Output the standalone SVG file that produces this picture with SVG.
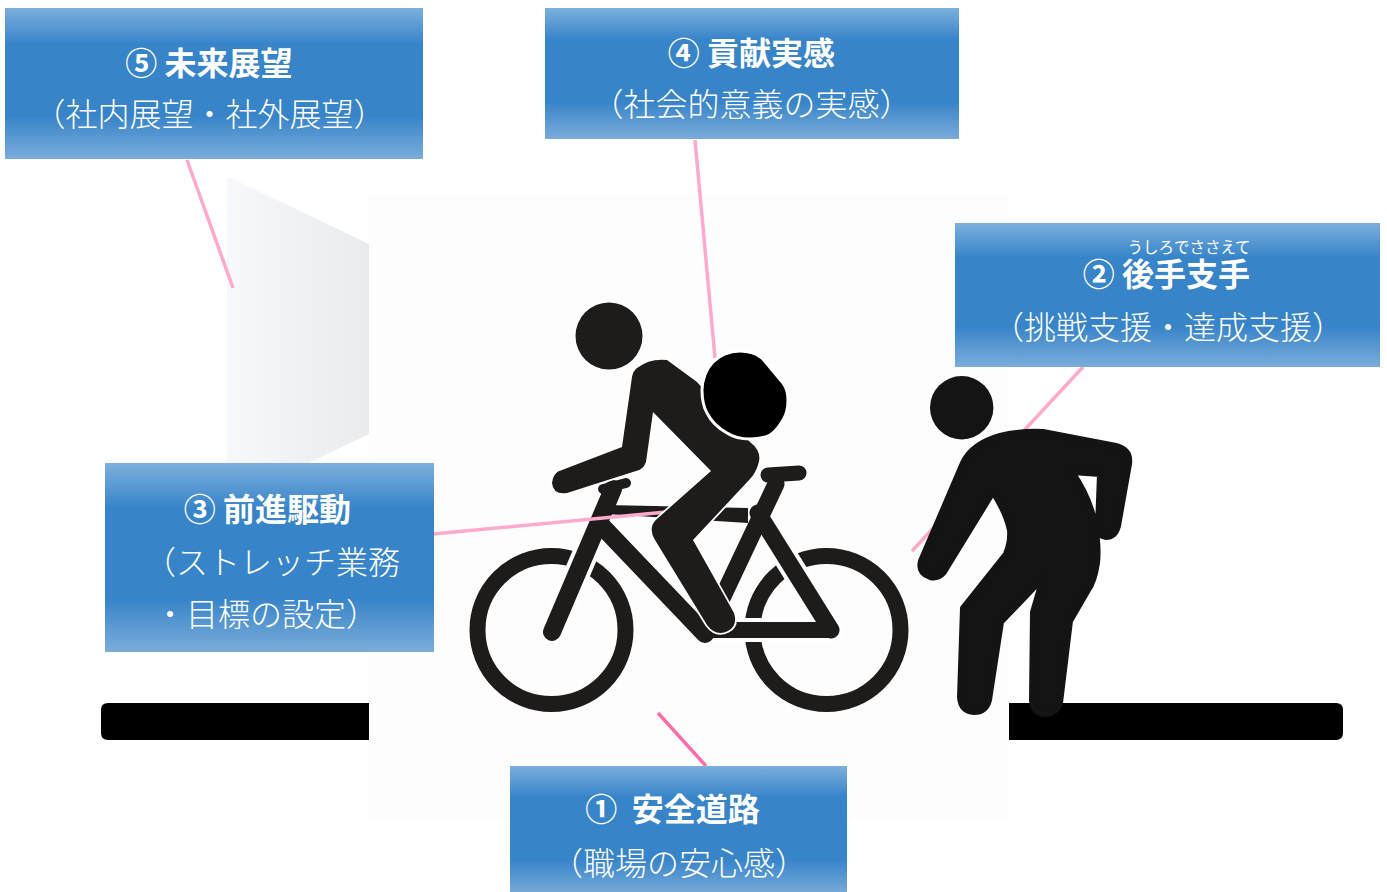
<svg xmlns="http://www.w3.org/2000/svg" width="1387" height="892" viewBox="0 0 1387 892">
  <defs>
    <linearGradient id="boxFill" x1="0" y1="0" x2="0" y2="1">
      <stop offset="0" stop-color="#7cafdd"/>
      <stop offset="0.24" stop-color="#3884c9"/>
      <stop offset="0.72" stop-color="#3884c9"/>
      <stop offset="1" stop-color="#7badda"/>
    </linearGradient>
    <linearGradient id="wedgeFill" x1="0" y1="0" x2="1" y2="0">
      <stop offset="0" stop-color="#f6f8fb"/>
      <stop offset="1" stop-color="#eaebed"/>
    </linearGradient>
    <style>
      .box { fill: url(#boxFill); }
      .title { font-family: "Noto Sans CJK JP", "Noto Sans", sans-serif; font-weight: 700; font-size: 32px; fill: #ffffff; text-anchor: middle; white-space: pre; }
      .sub { font-family: "Noto Sans CJK JP", "Noto Sans", sans-serif; font-weight: 300; font-size: 32px; fill: #ffffff; text-anchor: middle; }
      .ruby { font-family: "Noto Sans CJK JP", "Noto Sans", sans-serif; font-weight: 400; font-size: 15.5px; fill: #ffffff; text-anchor: middle; }
      .link { stroke: #ffa9cc; stroke-width: 3.5; fill: none; }
      .link-strong { stroke: #ff6eab; stroke-width: 3.5; fill: none; }
      .ink { fill: #1e1b1b; }
      .tube { stroke: #1e1b1b; fill: none; stroke-linecap: round; stroke-linejoin: round; }
      .gap { stroke: #ffffff; fill: none; stroke-linecap: round; }
    </style>
  </defs>

  <rect width="1387" height="892" fill="#ffffff"/>

  <!-- backdrop panel behind the figures -->
  <rect x="369" y="194" width="640" height="626" fill="#fdfdfd"/>
  <polygon points="227,176 369,244 369,434 227,502" fill="url(#wedgeFill)"/>

  <!-- ground bars -->
  <path d="M369,703 H108 Q101,703 101,710 V733 Q101,740 108,740 H369 Z" fill="#000000"/>
  <path d="M1009,703 H1336 Q1343,703 1343,710 V733 Q1343,740 1336,740 H1009 Z" fill="#000000"/>

  <!-- bicycle -->
  <g id="bicycle">
    <circle cx="551.5" cy="630" r="74" fill="none" stroke="#1e1b1b" stroke-width="16"/>
    <circle cx="826.5" cy="630" r="74" fill="none" stroke="#1e1b1b" stroke-width="16"/>
    <!-- white clearance where tubes cross the wheels -->
    <line class="gap" x1="552" y1="632" x2="613" y2="489" stroke-width="26"/>
    <line class="gap" x1="700" y1="630" x2="831" y2="630" stroke-width="24"/>
    <line class="gap" x1="758" y1="513" x2="831" y2="630" stroke-width="25"/>
    <!-- frame -->
    <line class="tube" x1="552" y1="632" x2="613" y2="489" stroke-width="18"/>
    <line class="tube" x1="603" y1="489" x2="626" y2="483" stroke-width="10"/>
    <polygon class="ink" points="606,505 748,508 748,523 606,514"/>
    <line class="tube" x1="599" y1="523" x2="705" y2="634" stroke-width="18"/>
    <line class="tube" x1="700" y1="630" x2="831" y2="630" stroke-width="16"/>
    <line class="tube" x1="758" y1="513" x2="831" y2="630" stroke-width="17"/>
    <line class="tube" x1="776" y1="484" x2="708" y2="628" stroke-width="17"/>
    <line class="tube" x1="768" y1="475" x2="799" y2="473" stroke-width="15"/>
  </g>

  <!-- connectors -->
  <g id="connectors">
    <line class="link" x1="187" y1="160" x2="233" y2="288"/>
    <line class="link" x1="695" y1="140" x2="715" y2="358"/>
    <line class="link" x1="1083" y1="367" x2="912" y2="551"/>
    <line class="link" x1="433" y1="534" x2="677" y2="511"/>
    <line class="link-strong" x1="658" y1="713" x2="706" y2="766"/>
  </g>

  <!-- rider on the bicycle -->
  <g id="rider">
    <circle cx="609" cy="336" r="33.5" fill="#1e1b1b"/>
    <path fill="#1e1b1b" stroke="#ffffff" stroke-width="3.5" stroke-linejoin="round" paint-order="stroke"
      d="M637,368 Q650,358 667,360 L697,382 L750,442 Q763,452 758,465 Q755,474 750,479 L693,540
         L734,613 Q738,626 728,631 Q716,637 707,625 L655,540 Q647,527 658,518 L711,471
         L653,412 L646,462 Q643,470 636,471 L567,493 Q553,495 552,483 Q553,472 562,470
         L622,447 L632,377 Q633,371 637,368 Z"/>
    <path fill="#000000" stroke="#ffffff" stroke-width="3"
      d="M740,351 C748,351 756,353 762,358 L783,383 C787,388 788,394 788,400
         C788,408 787,414 783,420 C779,427 775,432 770,435 C764,438 757,439 750,439
         C741,439 733,437 727,433 C718,428 711,421 707,413 C703,406 702,398 702,390
         C702,380 706,369 713,362 C720,355 730,351 740,351 Z"/>
  </g>

  <!-- standing supporter -->
  <g id="supporter">
    <circle cx="961.7" cy="407.7" r="31.7" fill="#141414"/>
    <path fill="#141414" stroke="#141414" stroke-width="6" stroke-linejoin="round"
      d="M921,561 L963,463 Q972,444 1000,436 Q1020,431 1043,432 L1116,446 Q1131,450 1129,464
         L1118,526 Q1115,537 1106,537 Q1097,536 1098,527 L1100,474 L1072,472
         Q1088,495 1094,520 Q1099,545 1097,563 Q1094,582 1088,590 L1070,621 L1060,703
         Q1056,714 1044,714 Q1033,713 1032,700 L1033,612 L1043,578 L1001,622 L989,700
         Q986,712 974,712 Q961,711 960,697 L963,608 L1006,554 Q1011,542 1010,530
         Q1006,512 993,492 L944,572 Q938,579 930,577 Q918,573 921,561 Z"/>
  </g>

  <!-- label nodes -->
  <g id="node-5">
    <rect class="box" x="5" y="8" width="418" height="151"/>
    <text class="title" x="209" y="75">⑤ 未来展望</text>
    <text class="sub" x="209.5" y="126">（社内展望・社外展望）</text>
  </g>

  <g id="node-4">
    <rect class="box" x="545" y="8" width="414" height="131"/>
    <text class="title" x="751.5" y="65">④ 貢献実感</text>
    <text class="sub" x="751.5" y="116">（社会的意義の実感）</text>
  </g>

  <g id="node-2">
    <rect class="box" x="955" y="223" width="425" height="144"/>
    <text class="ruby" x="1189" y="253">うしろでささえて</text>
    <text class="title" x="1166.5" y="286">② 後手支手</text>
    <text class="sub" x="1168" y="339">（挑戦支援・達成支援）</text>
  </g>

  <g id="node-3">
    <rect class="box" x="105" y="463" width="329" height="189"/>
    <text class="title" x="267.5" y="521">③ 前進駆動</text>
    <text class="sub" x="272" y="574">（ストレッチ業務</text>
    <text class="sub" x="266" y="626">・目標の設定）</text>
  </g>

  <g id="node-1">
    <rect class="box" x="510" y="766" width="337" height="130"/>
    <text class="title" x="672.5" y="821">①  安全道路</text>
    <text class="sub" x="679" y="875">（職場の安心感）</text>
  </g>
</svg>
